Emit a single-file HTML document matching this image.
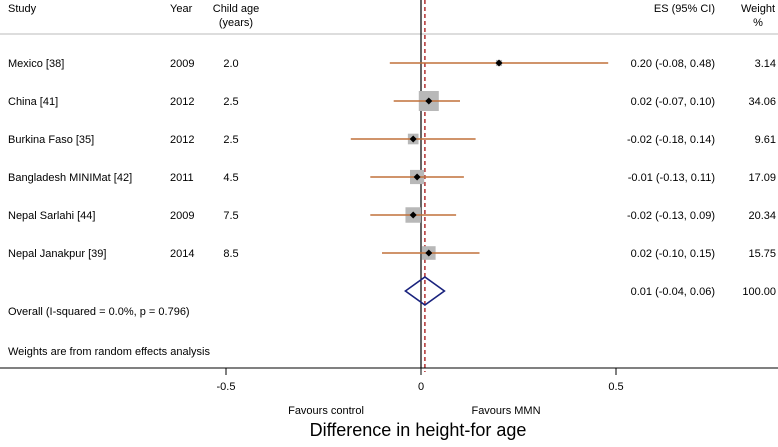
<!DOCTYPE html>
<html><head><meta charset="utf-8"><style>
body{margin:0;background:#fff;}
svg text{font-family:"Liberation Sans",Arial,sans-serif;font-size:11px;fill:#000;}
</style></head><body>
<svg width="778" height="442" viewBox="0 0 778 442" id="chart"></svg>
<script>
const studies=["Mexico [38]","China [41]","Burkina Faso [35]","Bangladesh MINIMat [42]","Nepal Sarlahi [44]","Nepal Janakpur [39]"];
const years=["2009","2012","2012","2011","2009","2014"];
const ages=["2.0","2.5","2.5","4.5","7.5","8.5"];
const es=[0.20,0.02,-0.02,-0.01,-0.02,0.02];
const lo=[-0.08,-0.07,-0.18,-0.13,-0.13,-0.10];
const hi=[0.48,0.10,0.14,0.11,0.09,0.15];
const weights=[3.14,34.06,9.61,17.09,20.34,15.75];
const overall=[0.01,-0.04,0.06];
const ticks=[-0.5,0,0.5];
const NS="http://www.w3.org/2000/svg";
const svg=document.getElementById('chart');
const X=v=>421+v*390;
const Y=i=>63+i*38;
function mk(tag,attrs,txt){const e=document.createElementNS(NS,tag);for(const k in attrs)e.setAttribute(k,attrs[k]);if(txt!=null)e.textContent=txt;svg.appendChild(e);return e;}
function f(v){return v.toFixed(2);}
let e;
e=mk('text',{x:8,y:12},'Study');
e=mk('text',{x:170,y:12},'Year');
e=mk('text',{x:236,y:12,'text-anchor':'middle'},'Child age');
e=mk('text',{x:236,y:26,'text-anchor':'middle'},'(years)');
e=mk('text',{x:715,y:12,'text-anchor':'end'},'ES (95% CI)');
e=mk('text',{x:758,y:12,'text-anchor':'middle'},'Weight');
e=mk('text',{x:758,y:26,'text-anchor':'middle'},'%');
e=mk('line',{x1:0,y1:34,x2:778,y2:34,stroke:'#bbb','stroke-width':1});
e=mk('line',{x1:X(0),y1:0,x2:X(0),y2:368,stroke:'#000','stroke-width':1.2});
e=mk('line',{x1:X(overall[0]),y1:0,x2:X(overall[0]),y2:372,stroke:'#b03030','stroke-width':1.5,'stroke-dasharray':'4,3'});
for(let i=0;i<studies.length;i++){
 const y=Y(i);
 e=mk('text',{x:8,y:y+4},studies[i]);
 e=mk('text',{x:170,y:y+4},years[i]);
 e=mk('text',{x:231,y:y+4,'text-anchor':'middle'},ages[i]);
 const s=Math.sqrt(weights[i])*3.43;
 e=mk('rect',{x:X(es[i])-s/2,y:y-s/2,width:s,height:s,fill:'#b8b8b8'});
 e=mk('line',{x1:X(lo[i]),y1:y,x2:X(hi[i]),y2:y,stroke:'#c0703a','stroke-width':1.5});
 e=mk('path',{d:`M${X(es[i])-3.5},${y}L${X(es[i])},${y-3.5}L${X(es[i])+3.5},${y}L${X(es[i])},${y+3.5}Z`,fill:'#000'});
 e=mk('text',{x:715,y:y+4,'text-anchor':'end'},`${f(es[i])} (${f(lo[i])}, ${f(hi[i])})`);
 e=mk('text',{x:776,y:y+4,'text-anchor':'end'},f(weights[i]));
}
const dy=291;
e=mk('path',{d:`M${X(overall[1])},${dy}L${X(overall[0])},${dy-14}L${X(overall[2])},${dy}L${X(overall[0])},${dy+14}Z`,fill:'none',stroke:'#1a237e','stroke-width':1.6});
e=mk('text',{x:715,y:dy+4,'text-anchor':'end'},`${f(overall[0])} (${f(overall[1])}, ${f(overall[2])})`);
e=mk('text',{x:776,y:dy+4,'text-anchor':'end'},'100.00');
e=mk('text',{x:8,y:315},'Overall  (I-squared = 0.0%, p = 0.796)');
e=mk('text',{x:8,y:355},'Weights are from random effects analysis');
e=mk('line',{x1:0,y1:368,x2:778,y2:368,stroke:'#000','stroke-width':1});
for(const t of ticks){
 e=mk('line',{x1:X(t),y1:368,x2:X(t),y2:375,stroke:'#000','stroke-width':1});
 e=mk('text',{x:X(t),y:390,'text-anchor':'middle'},t===0?'0':String(t));
}
e=mk('text',{x:326,y:414,'text-anchor':'middle'},'Favours control');
e=mk('text',{x:506,y:414,'text-anchor':'middle'},'Favours MMN');
e=mk('text',{x:418,y:436,'text-anchor':'middle','font-size':'18px',style:'font-size:18px'},'Difference in height-for age');
</script>
</body></html>
